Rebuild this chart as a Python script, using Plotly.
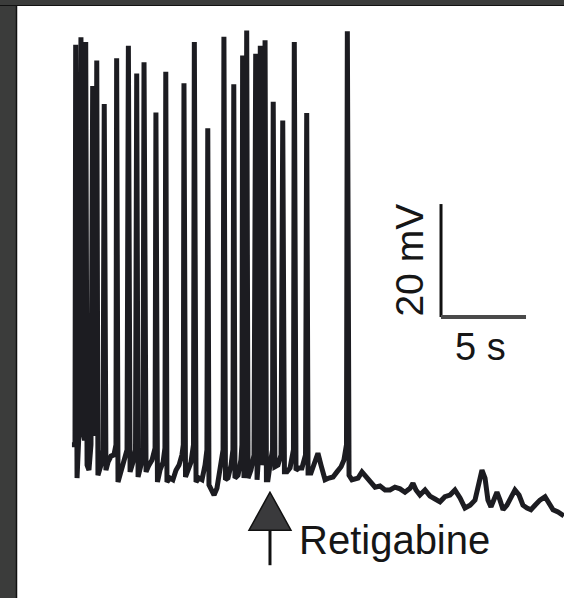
import plotly.graph_objects as go

# ---- data: membrane potential trace (time in s, potential in mV) ----
spike_t = [0.04, 0.35, 0.63, 1.04, 1.28, 1.72, 2.45, 3.14, 3.63, 4.06, 4.76, 5.34,
           6.41, 7.02, 7.81, 8.76, 9.34, 9.86, 10.10, 10.63, 10.90, 11.18, 11.66,
           12.22, 12.90, 13.63, 16.02]
spike_v = [13.5, 14.8, 14.0, 6.2, 10.7, 3.0, 11.1, 13.3, 8.4, 10.4, 1.5, 8.7,
           6.7, 14.0, -1.3, 14.9, 6.5, 11.6, 16.0, 11.9, 13.3, 14.3, 3.4,
           0.1, 14.0, 1.4, 15.9]

base_t = [-0.18, 0.00, 0.12, 0.24, 0.47, 0.56, 0.71, 0.82, 0.94, 1.12, 1.22, 1.35,
          1.53, 1.65, 1.82, 1.94, 2.12, 2.29, 2.41, 2.53, 2.71, 2.88, 3.06, 3.24,
          3.41, 3.56, 3.71, 3.88, 4.00, 4.18, 4.35, 4.53, 4.71, 4.85, 5.00, 5.18,
          5.29, 5.41, 5.59, 5.76, 5.94, 6.12, 6.29, 6.37, 6.50, 6.65, 6.82, 6.97,
          7.12, 7.29, 7.47, 7.65, 7.76, 7.88, 8.06, 8.18, 8.35, 8.53, 8.71, 8.85,
          9.00, 9.18, 9.29, 9.41, 9.59, 9.76, 9.82, 9.94, 10.03, 10.18, 10.35,
          10.53, 10.71, 10.82, 11.00, 11.12, 11.26, 11.35, 11.47, 11.62, 11.76,
          11.94, 12.12, 12.32, 12.47, 12.65, 12.85, 13.00, 13.18, 13.35, 13.56,
          13.71, 13.88, 14.12, 14.29, 14.47, 14.71, 14.94, 15.18, 15.41, 15.65,
          15.82, 15.97, 16.12, 16.29, 16.65, 16.88, 17.06, 17.35, 17.65, 17.94,
          18.24, 18.53, 18.82, 19.12, 19.41, 19.71, 19.88, 20.06, 20.29, 20.59,
          20.88, 21.18, 21.47, 21.76, 22.06, 22.35, 22.65, 22.94, 23.24, 23.53,
          23.76, 23.94, 24.12, 24.29, 24.47, 24.65, 24.82, 25.00, 25.18, 25.41,
          25.65, 25.88, 26.12, 26.35, 26.59, 26.82, 27.06, 27.35, 27.65, 27.88,
          28.12, 28.41, 28.76]
base_v = [-57.3, -57.3, -63.2, -54.7, -55.0, -56.5, -60.9, -61.8, -57.3, -54.7, -55.6, -62.7,
          -60.9, -58.2, -61.8, -60.4, -59.3, -59.1, -57.3, -63.9, -61.8, -60.4, -58.2, -62.1,
          -60.4, -58.2, -63.0, -60.9, -57.9, -62.1, -60.9, -60.0, -57.9, -63.9, -61.8, -60.4,
          -57.9, -63.9, -63.2, -63.5, -61.8, -60.9, -59.1, -57.3, -63.0, -61.8, -60.4, -57.3,
          -63.9, -63.2, -63.5, -60.9, -58.2, -64.4, -65.8, -66.2, -65.0, -61.8, -58.2, -63.5,
          -63.2, -60.9, -58.2, -63.2, -62.7, -60.0, -57.3, -63.2, -59.1, -63.2, -61.8,
          -59.1, -63.5, -58.2, -60.9, -58.2, -63.5, -63.5, -60.9, -58.2, -61.2,
          -60.9, -59.1, -62.1, -62.1, -61.4, -58.2, -61.8, -61.4, -61.4, -59.1,
          -62.3, -62.3, -60.4, -58.8, -60.9, -63.5, -63.2, -63.0, -62.1, -61.2,
          -60.0, -57.3, -62.7, -63.5, -63.2, -62.1, -62.7, -63.5, -64.8, -64.6,
          -65.3, -65.3, -64.8, -65.1, -65.7, -65.0, -64.1, -65.3, -66.2, -65.3,
          -66.4, -66.9, -67.4, -66.5, -66.2, -65.3, -66.7, -68.5, -68.0, -67.1,
          -64.4, -61.8, -63.2, -67.1, -68.3, -67.1, -65.7, -67.1, -68.8, -68.0,
          -66.5, -65.3, -66.2, -68.0, -68.5, -68.8, -68.0, -67.1, -66.5, -67.6,
          -68.8, -69.2, -69.9]

retigabine_t = 11.47          # drug application (s)
scale_mv = 20                 # vertical scale bar (mV)
scale_s = 5                   # horizontal scale bar (s)
scale_t0, scale_v0 = 21.53, -34.7

# ---- merge spikes into the baseline trace ----
pts = sorted(list(zip(base_t, base_v)) + list(zip(spike_t, spike_v)))
trace_t = [p[0] for p in pts]
trace_v = [p[1] for p in pts]

# ---- geometry: pixel scale of the recording ----
W, H = 564, 598
PX_PER_S = 17.0
PX_PER_MV = 5.65
T_AT_LEFT = -75 / PX_PER_S
V_AT_TOP = -60 + 460 / PX_PER_MV
x_range = [T_AT_LEFT, T_AT_LEFT + W / PX_PER_S]
y_range = [V_AT_TOP - H / PX_PER_MV, V_AT_TOP]
dt = 1 / PX_PER_S
dv = 1 / PX_PER_MV

fig = go.Figure()
fig.add_trace(go.Scatter(x=trace_t, y=trace_v, mode="lines",
                         line=dict(color="#1c1c21", width=5),
                         hoverinfo="skip", showlegend=False))

shapes = []
# scale bars
shapes.append(dict(type="line", xref="x", yref="y", x0=scale_t0, x1=scale_t0,
                   y0=scale_v0, y1=scale_v0 + scale_mv,
                   line=dict(color="#111111", width=3)))
shapes.append(dict(type="line", xref="x", yref="y", x0=scale_t0, x1=scale_t0 + scale_s,
                   y0=scale_v0, y1=scale_v0,
                   line=dict(color="#4a4a4a", width=4)))
# arrow (retigabine application)
tip_v = -65.7
head_len = 38 * dv
half_w = 21 * dt
shaft_len = 35 * dv
shapes.append(dict(type="path", xref="x", yref="y",
                   path=f"M {retigabine_t},{tip_v} L {retigabine_t-half_w},{tip_v-head_len} "
                        f"L {retigabine_t+half_w},{tip_v-head_len} Z",
                   fillcolor="#3a3a3c", line=dict(color="#111111", width=1.5)))
shapes.append(dict(type="line", xref="x", yref="y", x0=retigabine_t, x1=retigabine_t,
                   y0=tip_v - head_len, y1=tip_v - head_len - shaft_len,
                   line=dict(color="#111111", width=3)))
# scan border artefacts
shapes.append(dict(type="rect", xref="paper", yref="paper", x0=0, x1=16 / W, y0=0, y1=1,
                   fillcolor="#3b3c3b", line=dict(width=0), layer="above"))
shapes.append(dict(type="line", xref="paper", yref="paper", x0=16.5 / W, x1=16.5 / W, y0=0, y1=1,
                   line=dict(color="#111111", width=1.5), layer="above"))
shapes.append(dict(type="rect", xref="paper", yref="paper", x0=0, x1=1, y0=1 - 5 / H, y1=1,
                   fillcolor="#3b3c3b", line=dict(width=0), layer="above"))
shapes.append(dict(type="line", xref="paper", yref="paper", x0=0, x1=1, y0=1 - 5.5 / H, y1=1 - 5.5 / H,
                   line=dict(color="#111111", width=1), layer="above"))

font = dict(family="Liberation Sans, Arial, Helvetica, sans-serif", color="#161616")
annotations = [
    dict(x=scale_t0 - 31 * dt, y=scale_v0 + scale_mv / 2, xref="x", yref="y",
         text=f"{scale_mv} mV", textangle=-90, showarrow=False,
         font=dict(size=39, **font), xanchor="center", yanchor="middle"),
    dict(x=scale_t0 + scale_s / 2 - 3 * dt, y=scale_v0 - 30 * dv, xref="x", yref="y",
         text=f"{scale_s} s", showarrow=False,
         font=dict(size=38, **font), xanchor="center", yanchor="middle"),
    dict(x=retigabine_t + 27 * dt, y=tip_v - 48 * dv, xref="x", yref="y",
         text="Retigabine", showarrow=False,
         font=dict(size=40, **font), xanchor="left", yanchor="middle"),
]

fig.update_layout(
    width=W, height=H, autosize=False,
    margin=dict(l=0, r=0, t=0, b=0),
    paper_bgcolor="white", plot_bgcolor="white",
    xaxis=dict(range=x_range, visible=False, fixedrange=True),
    yaxis=dict(range=y_range, visible=False, fixedrange=True),
    shapes=shapes, annotations=annotations,
)
fig.write_html("out.html", config={"displayModeBar": False},
               post_script="document.body.style.margin='0';document.body.style.overflow='hidden';")
